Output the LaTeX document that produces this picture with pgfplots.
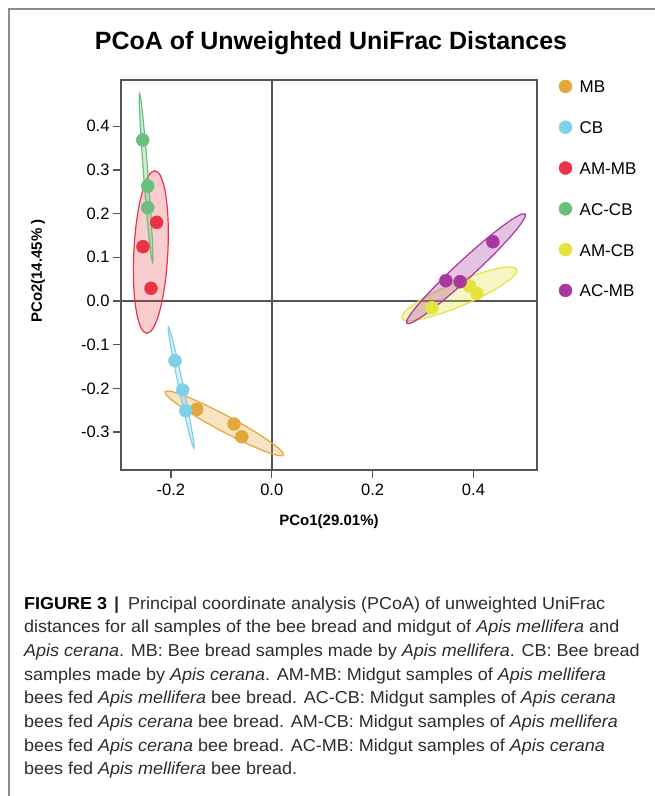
\documentclass[border=0pt]{standalone}
\usepackage{fontspec}
\setmainfont{Liberation Sans}
\newfontfamily\capfont{Liberation Sans}[FakeStretch=1.04]
\usepackage{pgfplots}
\pgfplotsset{compat=1.18}
\definecolor{cMB}{RGB}{226,168,58}
\definecolor{cCB}{RGB}{128,208,232}
\definecolor{cAMMB}{RGB}{234,52,70}
\definecolor{cACCB}{RGB}{104,192,124}
\definecolor{cAMCB}{RGB}{228,228,60}
\definecolor{cACMB}{RGB}{168,56,158}
\definecolor{axgray}{RGB}{85,85,85}
\definecolor{framegray}{RGB}{140,140,140}
\definecolor{captxt}{RGB}{45,45,45}
\begin{document}
\begin{tikzpicture}[x=1pt,y=1pt]
\useasboundingbox (0,0) rectangle (655,-796);
\fill[white] (0,0) rectangle (655,-796);
\draw[framegray, line width=1.2pt] (9,-796) -- (9,-9) -- (655,-9);
\node[font=\bfseries\fontsize{25}{30}\selectfont, anchor=base] at (331,-49) {PCoA of Unweighted UniFrac Distances};
\begin{axis}[
  at={(121pt,-470pt)}, anchor=south west,
  scale only axis, width=416pt, height=390pt,
  xmin=-0.299, xmax=0.526, ymin=-0.3867, ymax=0.5057,
  axis line style={draw=axgray, line width=1.3pt},
  xtick={-0.2,0,0.2,0.4}, xticklabels={-0.2,0.0,0.2,0.4},
  ytick={-0.3,-0.2,-0.1,0,0.1,0.2,0.3,0.4},
  yticklabels={-0.3,-0.2,-0.1,0.0,0.1,0.2,0.3,0.4},
  tick align=outside, xtick pos=bottom, ytick pos=left,
  major tick length=8pt, tick style={axgray, line width=1.3pt},
  ticklabel style={font=\fontsize{16.5}{19}\selectfont},
  xticklabel style={yshift=-2pt},
  /pgf/number format/assume math mode=true,
  xlabel={PCo1(29.01\%)}, ylabel={PCo2(14.45\% )},
  label style={font=\bfseries\fontsize{15}{18}\selectfont},
  xlabel style={at={(axis description cs:0.5,-0.1326)}, anchor=center},
  ylabel style={at={(axis description cs:-0.1995,0.51)}, anchor=center},
  legend style={draw=none, fill=none, at={(1,1)}, anchor=north west, xshift=22pt, yshift=0.1pt,
    inner sep=0pt, outer sep=0pt, row sep=24.8pt, column sep=7.7pt,
    font=\fontsize{17}{20}\selectfont,
    nodes={inner sep=0pt, text height=12pt, text depth=3pt}},
  legend cell align=left,
  legend image code/.code={\draw[mark repeat=2,mark phase=2,#1] plot coordinates {(0pt,2pt) (7pt,2pt) (14pt,2pt)};},
  clip=false,
]
\draw[axgray, line width=1.6pt] (axis cs:0,-0.3867) -- (axis cs:0,0.5057);
\draw[axgray, line width=1.6pt] (axis cs:-0.299,0) -- (axis cs:0.526,0);
% ellipses
\draw[cMB, line width=1.2pt, fill=cMB, fill opacity=0.3, rotate around={-28.15:(axis cs:-0.0943,-0.280)}] (axis cs:-0.0943,-0.280) ellipse [x radius=67.1pt, y radius=8pt];
\draw[cCB, line width=1.2pt, fill=cCB, fill opacity=0.3, rotate around={101.9:(axis cs:-0.1797,-0.1979)}] (axis cs:-0.1797,-0.1979) ellipse [x radius=62.1pt, y radius=2.3pt];
\draw[cAMMB, line width=1.2pt, fill=cAMMB, fill opacity=0.25, rotate around={87.1:(axis cs:-0.2398,0.1121)}] (axis cs:-0.2398,0.1121) ellipse [x radius=81.4pt, y radius=17pt];
\draw[cACCB, line width=1.2pt, fill=cACCB, fill opacity=0.3, rotate around={94.4:(axis cs:-0.2493,0.2813)}] (axis cs:-0.2493,0.2813) ellipse [x radius=84.6pt, y radius=2.2pt];
\draw[cAMCB, line width=1.2pt, fill=cAMCB, fill opacity=0.3, rotate around={23.1:(axis cs:0.372,0.0165)}] (axis cs:0.372,0.0165) ellipse [x radius=62.5pt, y radius=12pt];
\draw[cACMB, line width=1.2pt, fill=cACMB, fill opacity=0.3, rotate around={42.7:(axis cs:0.3852,0.0740)}] (axis cs:0.3852,0.0740) ellipse [x radius=80.5pt, y radius=9pt];
% points
\addplot[only marks, mark=*, mark size=6.5pt, color=cMB] coordinates {(-0.1488,-0.2478) (-0.0748,-0.2815) (-0.0595,-0.3105)};
\addlegendentry{MB}
\addplot[only marks, mark=*, mark size=6.5pt, color=cCB] coordinates {(-0.1919,-0.1366) (-0.1766,-0.2037) (-0.1706,-0.2510)};
\addlegendentry{CB}
\addplot[only marks, mark=*, mark size=6.5pt, color=cAMMB] coordinates {(-0.2282,0.1801) (-0.2554,0.1243) (-0.2395,0.0291)};
\addlegendentry{AM-MB}
\addplot[only marks, mark=*, mark size=6.5pt, color=cACCB] coordinates {(-0.2560,0.3684) (-0.2460,0.2632) (-0.2460,0.2135)};
\addlegendentry{AC-CB}
\addplot[only marks, mark=*, mark size=6.5pt, color=cAMCB] coordinates {(0.3921,0.0343) (0.4067,0.0176) (0.3175,-0.0153)};
\addlegendentry{AM-CB}
\addplot[only marks, mark=*, mark size=6.5pt, color=cACMB] coordinates {(0.4385,0.1357) (0.3452,0.0465) (0.3736,0.0442)};
\addlegendentry{AC-MB}
\end{axis}
\begin{scope}[every node/.style={anchor=base west, inner sep=0pt, font=\capfont\fontsize{17.3}{20}\selectfont, text=captxt}]
\node at (24,-609.0) {\textbf{\color{black}FIGURE 3}\hspace{7pt}\textbf{|}\hspace{9pt}Principal coordinate analysis (PCoA) of unweighted UniFrac};
\node at (24,-632.7) {distances for all samples of the bee bread and midgut of \textit{Apis mellifera} and};
\node at (24,-656.4) {\textit{Apis cerana}. MB: Bee bread samples made by \textit{Apis mellifera}. CB: Bee bread};
\node at (24,-680.1) {samples made by \textit{Apis cerana}. AM-MB: Midgut samples of \textit{Apis mellifera}};
\node at (24,-703.8) {bees fed \textit{Apis mellifera} bee bread. AC-CB: Midgut samples of \textit{Apis cerana}};
\node at (24,-727.5) {bees fed \textit{Apis cerana} bee bread. AM-CB: Midgut samples of \textit{Apis mellifera}};
\node at (24,-751.2) {bees fed \textit{Apis cerana} bee bread. AC-MB: Midgut samples of \textit{Apis cerana}};
\node at (24,-774.9) {bees fed \textit{Apis mellifera} bee bread.};
\end{scope}
\end{tikzpicture}
\end{document}
